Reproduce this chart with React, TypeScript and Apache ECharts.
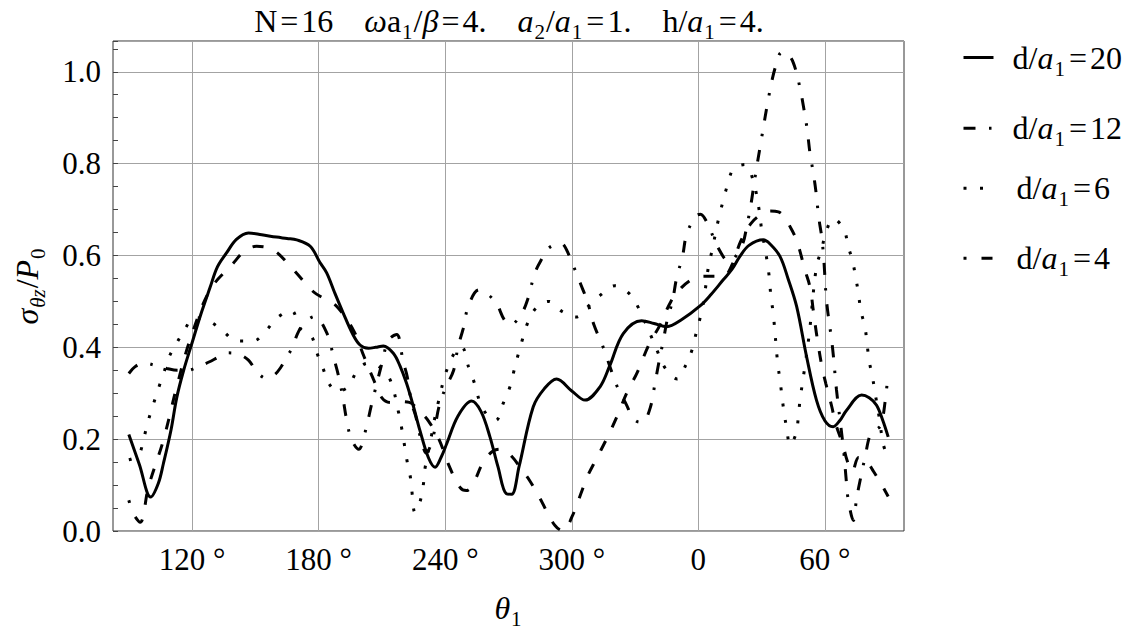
import { useEffect, useRef } from 'react';
import * as echarts from 'echarts';

const FONT = 'Liberation Serif, Times New Roman, Times, DejaVu Serif, serif';

// θ1 in degrees, unwrapped past 360 (e.g. 390 means 30°)
const theta20 = [90, 95, 100.4, 104, 106.4, 110, 112.7, 116, 120, 124, 128.5, 132, 136.4, 141, 146.7, 153, 160, 165, 169.6, 176, 180.7, 183.8, 187.5, 191.7, 196, 199.6, 203.6, 207, 210.7, 215.4, 218.5, 221.7, 225, 228, 232, 235.2, 238, 240.7, 246, 252.5, 257, 261.2, 265, 269, 271.5, 275, 281.7, 287, 292.8, 300, 306.3, 313.4, 318, 324.4, 333.1, 339, 345, 352, 360.8, 366, 371.8, 376, 379.7, 384, 390.8, 394, 398.7, 402.5, 406.6, 411.3, 416, 420, 423.9, 427, 430.3, 437.4, 441, 444.5, 447.5, 450];
const sigma20 = [0.21, 0.145, 0.074, 0.104, 0.147, 0.22, 0.29, 0.35, 0.41, 0.47, 0.53, 0.575, 0.606, 0.635, 0.649, 0.645, 0.64, 0.637, 0.634, 0.62, 0.584, 0.562, 0.52, 0.474, 0.43, 0.405, 0.398, 0.4, 0.403, 0.387, 0.36, 0.321, 0.27, 0.219, 0.16, 0.139, 0.16, 0.19, 0.25, 0.283, 0.26, 0.205, 0.14, 0.081, 0.08, 0.14, 0.27, 0.31, 0.331, 0.305, 0.285, 0.314, 0.36, 0.43, 0.458, 0.452, 0.445, 0.46, 0.49, 0.515, 0.547, 0.57, 0.598, 0.622, 0.634, 0.625, 0.598, 0.55, 0.489, 0.38, 0.285, 0.24, 0.227, 0.24, 0.263, 0.296, 0.29, 0.274, 0.24, 0.205];

const theta12 = [90, 93, 97, 103, 108, 113, 118, 123, 128, 133, 137, 142, 146.7, 151, 155, 159, 162, 165, 167.6, 170, 173, 178, 184, 187, 189.5, 191.5, 193.3, 195.5, 199, 202, 205, 207.5, 210, 213, 217, 220, 222, 224, 226, 228.5, 231, 234, 237, 240, 244, 246, 248.5, 251, 256, 263.6, 268, 271, 276, 279, 282.6, 286, 289, 294.7, 299, 301.5, 304, 307.4, 310.5, 314.5, 321.5, 326, 329, 332, 334, 337.3, 339.4, 341.4, 343.4, 345.4, 347.7, 349.7, 352.5, 354.4, 358.6, 361, 364.6, 369, 374.5, 380.5, 383.2, 385, 386.7, 390, 393.6, 396.5, 399.5, 402, 405, 408, 410, 411.6, 413, 414.5, 416, 417, 418.5, 419.5, 420.8, 423.6, 425.5, 427.5, 429, 430, 431, 433.5, 435, 437, 439, 441.5, 444, 446.5, 448.5, 450];
const sigma12 = [0.343, 0.358, 0.366, 0.36, 0.354, 0.35, 0.35, 0.358, 0.368, 0.38, 0.388, 0.385, 0.372, 0.345, 0.333, 0.34, 0.356, 0.38, 0.4, 0.43, 0.452, 0.467, 0.43, 0.38, 0.336, 0.29, 0.241, 0.2, 0.178, 0.215, 0.274, 0.32, 0.365, 0.415, 0.428, 0.37, 0.336, 0.28, 0.25, 0.2, 0.17, 0.2, 0.27, 0.31, 0.35, 0.4, 0.44, 0.49, 0.525, 0.5, 0.46, 0.449, 0.472, 0.503, 0.563, 0.594, 0.616, 0.627, 0.598, 0.569, 0.54, 0.5, 0.449, 0.405, 0.315, 0.274, 0.246, 0.237, 0.238, 0.27, 0.32, 0.37, 0.415, 0.463, 0.5, 0.551, 0.598, 0.645, 0.685, 0.69, 0.667, 0.62, 0.587, 0.62, 0.669, 0.713, 0.765, 0.856, 0.951, 1.01, 1.042, 1.04, 1.02, 0.969, 0.92, 0.874, 0.82, 0.78, 0.73, 0.685, 0.64, 0.59, 0.5, 0.4, 0.307, 0.23, 0.17, 0.117, 0.07, 0.023, 0.07, 0.117, 0.16, 0.21, 0.22, 0.23, 0.28, 0.345];

const theta6 = [90, 94.6, 97, 99, 101.5, 104, 106.5, 109, 112.8, 117, 121, 128, 134.5, 141, 149, 155, 160.3, 167, 171.5, 176.5, 179, 182, 185, 189, 194, 198, 203, 208, 213.8, 217.8, 219.5, 222, 223.6, 224.4, 225.6, 228, 229.6, 230.4, 233.5, 235, 236.6, 240.7, 246, 248, 251, 254, 256.5, 260, 264, 267.5, 270.7, 272.5, 274.5, 276.6, 279, 283, 289, 295.4, 302, 308, 313.4, 320.5, 327, 331.5, 338, 341, 344.4, 350, 354, 357, 359, 361, 362.6, 364.7, 366.5, 369.6, 371.7, 373.8, 376.7, 382, 386, 389, 390, 392, 393.6, 394.4, 395.5, 397.6, 398.7, 400.6, 401.9, 403.5, 406.3, 407.4, 408.2, 410.5, 412.6, 416, 418.4, 420.4, 424, 429, 431, 433, 434.7, 436, 437, 439, 440, 441, 442.6, 443.7, 446, 447.6, 450];
const sigma6 = [0.155, 0.165, 0.2, 0.237, 0.274, 0.31, 0.343, 0.378, 0.41, 0.443, 0.465, 0.457, 0.436, 0.414, 0.414, 0.436, 0.464, 0.48, 0.44, 0.425, 0.39, 0.355, 0.32, 0.305, 0.314, 0.347, 0.365, 0.36, 0.33, 0.26, 0.22, 0.15, 0.114, 0.078, 0.041, 0.063, 0.1, 0.136, 0.208, 0.245, 0.278, 0.35, 0.398, 0.4, 0.358, 0.32, 0.28, 0.252, 0.241, 0.278, 0.314, 0.347, 0.383, 0.417, 0.452, 0.485, 0.5, 0.478, 0.466, 0.49, 0.513, 0.534, 0.518, 0.487, 0.42, 0.387, 0.354, 0.331, 0.361, 0.394, 0.432, 0.467, 0.503, 0.573, 0.611, 0.68, 0.718, 0.753, 0.789, 0.798, 0.763, 0.694, 0.656, 0.605, 0.554, 0.51, 0.474, 0.366, 0.329, 0.259, 0.223, 0.187, 0.212, 0.248, 0.285, 0.358, 0.43, 0.576, 0.612, 0.649, 0.68, 0.657, 0.62, 0.59, 0.55, 0.514, 0.48, 0.444, 0.407, 0.37, 0.334, 0.303, 0.24, 0.19, 0.158];

const theta4 = [90, 92.5, 95.4, 99.3, 106.4, 112.7, 119, 128.5, 139.5, 145, 150.6, 158.5, 168, 177.5, 183, 188.6, 196.4, 201.5, 206, 210, 214, 218, 223, 228, 232, 237, 242, 247, 250, 253, 258, 263, 267, 272, 276, 280, 285, 292, 296, 300, 305, 307, 312, 317, 321.5, 326, 331, 336.5, 342, 347, 352, 357, 362, 367, 372, 376, 380, 385, 390, 394, 398, 401, 403, 406, 408, 410.5, 413, 414.5, 416, 418.5, 420.5, 423.3, 425, 428.6, 430.5, 433, 436, 440, 443, 447, 450];
const sigma4 = [0.067, 0.035, 0.019, 0.096, 0.198, 0.314, 0.416, 0.525, 0.583, 0.61, 0.62, 0.612, 0.569, 0.521, 0.505, 0.489, 0.438, 0.38, 0.33, 0.29, 0.28, 0.282, 0.28, 0.26, 0.24, 0.2, 0.14, 0.095, 0.088, 0.1, 0.15, 0.175, 0.178, 0.16, 0.135, 0.11, 0.07, 0.012, 0.0, 0.03, 0.09, 0.115, 0.16, 0.205, 0.25, 0.3, 0.345, 0.405, 0.45, 0.5, 0.53, 0.548, 0.555, 0.555, 0.555, 0.58, 0.63, 0.67, 0.69, 0.697, 0.695, 0.683, 0.667, 0.64, 0.612, 0.569, 0.53, 0.48, 0.43, 0.36, 0.32, 0.27, 0.235, 0.187, 0.154, 0.13, 0.16, 0.15, 0.13, 0.1, 0.075];

const xTickValues = [120, 180, 240, 300, 360, 420];
const seriesNames = ['d/a1=20', 'd/a1=12', 'd/a1=6', 'd/a1=4'];
const legendTops = [31, 101.7, 161.7, 231.7];
const legendTextPad = [14, 14, 18, 18];

const pairs = (t: number[], v: number[]) => t.map((x, i) => [x, v[i]]);

const LH = 40;
function richSet(fs: number) {
  const sub = Math.round(fs * 0.66);
  const base = { fontFamily: FONT, color: '#000', lineHeight: LH };
  return {
    n: { ...base, fontSize: fs },
    i: { ...base, fontSize: fs, fontStyle: 'italic' },
    e: { ...base, fontSize: fs, padding: [0, 3, 0, 3] },
    g: { ...base, fontSize: fs, padding: [0, 23, 0, 0] },
    s: { ...base, fontSize: sub, padding: [22, 1, 0, 1] },
    si: { ...base, fontSize: sub, fontStyle: 'italic', padding: [22, 1, 0, 1] },
  };
}

function xLabel(v: number) {
  if (v === 360) return '0';
  const d = v % 360;
  return `${d} °`;
}

export default function App() {
  const ref = useRef<HTMLDivElement>(null);
  useEffect(() => {
    if (!ref.current) return;
    const chart = echarts.init(ref.current, null, { renderer: 'svg' });
    const rich32 = richSet(32);
    const lineStyles: any[] = [
      { color: '#000', width: 3, type: 'solid' },
      { color: '#000', width: 3, type: [12, 13.5, 2.5, 13.5], cap: 'butt' },
      { color: '#000', width: 3, type: [3, 13.5], cap: 'butt' },
      { color: '#000', width: 3, type: [11, 15], dashOffset: 8, cap: 'butt' },
    ];
    const dataSets = [
      pairs(theta20, sigma20),
      pairs(theta12, sigma12),
      pairs(theta6, sigma6),
      pairs(theta4, sigma4),
    ];
    const option: any = {
      animation: false,
      backgroundColor: '#ffffff',
      textStyle: { fontFamily: FONT },
      title: {
        text: '{n|N}{e|=}{n|16}{g| }{i|ω}{n|a}{s|1}{n|/}{i|β}{e|=}{n|4.}{g| }{i|a}{s|2}{n|/}{i|a}{s|1}{e|=}{n|1.}{g| }{n|h/}{i|a}{s|1}{e|=}{n|4.}',
        left: 509,
        top: 1,
        padding: 0,
        textAlign: 'center',
        textStyle: { rich: rich32, lineHeight: LH, fontSize: 32, fontFamily: FONT, fontWeight: 'normal', color: '#000' },
      },
      legend: seriesNames.map((nm, k) => ({
        data: [nm],
        orient: 'vertical',
        left: 957,
        top: legendTops[k],
        itemWidth: 30,
        itemHeight: 40,
        selectedMode: false,
        itemStyle: { opacity: 0 },
        lineStyle: { width: 3 },
        formatter: (name: string) => `{n|d/}{i|a}{s|1}{e|=}{n|${name.split('=')[1]}}`,
        textStyle: { rich: rich32, lineHeight: LH, fontSize: 32, fontFamily: FONT, color: '#000', padding: [0, 0, 0, legendTextPad[k]] },
      })),
      grid: {
        left: 113,
        top: 41,
        width: 791,
        height: 490,
        show: true,
        borderColor: '#333',
        borderWidth: 1,
        backgroundColor: 'transparent',
        containLabel: false,
        outerBoundsMode: 'none',
      },
      xAxis: {
        type: 'value',
        min: 82.5,
        max: 457.5,
        axisLine: { show: false },
        axisTick: { show: false, customValues: xTickValues },
        axisLabel: {
          customValues: xTickValues,
          formatter: xLabel,
          fontFamily: FONT,
          fontSize: 31,
          color: '#000',
          margin: 13,
        },
        splitLine: { show: true, lineStyle: { color: '#a3a3a3', width: 1 } },
        name: '{i|θ}{s|1}',
        nameLocation: 'middle',
        nameGap: 57,
        nameTextStyle: { rich: rich32, lineHeight: LH, fontFamily: FONT },
      },
      yAxis: [
        {
          type: 'value',
          min: 0,
          max: 1.067,
          interval: 0.2,
          position: 'left',
          axisLine: { show: false },
          axisTick: { show: false },
          axisLabel: {
            formatter: (v: number) => (Math.abs(v * 5 - Math.round(v * 5)) < 1e-6 ? v.toFixed(1) : ''),
            fontFamily: FONT,
            fontSize: 31,
            color: '#000',
            margin: 12,
          },
          splitLine: { show: true, lineStyle: { color: '#a3a3a3', width: 1 } },
          name: '{i|σ}{si|θz}{n|/}{i|P}{s|0}',
          nameLocation: 'middle',
          nameGap: 66,
          nameRotate: 90,
          nameTextStyle: { rich: rich32, lineHeight: LH, fontFamily: FONT },
        },
        {
          type: 'value',
          min: 0,
          max: 1.067,
          interval: 0.05,
          position: 'left',
          axisLine: { show: false },
          axisLabel: { show: false },
          splitLine: { show: false },
          axisTick: { show: true, inside: true, length: 5, lineStyle: { color: '#444', width: 1 } },
        },
      ],
      series: seriesNames.map((nm, k) => ({
        name: nm,
        type: 'line',
        data: dataSets[k],
        smooth: 0.35,
        symbol: 'none',
        showSymbol: false,
        lineStyle: lineStyles[k],
        itemStyle: { color: '#000' },
        emphasis: { disabled: true },
      })),
    };
    chart.setOption(option);
    return () => chart.dispose();
  }, []);
  return (
    <div
      ref={ref}
      style={{ position: 'fixed', left: 0, top: 0, width: 1136, height: 635, background: '#fff' }}
    />
  );
}
